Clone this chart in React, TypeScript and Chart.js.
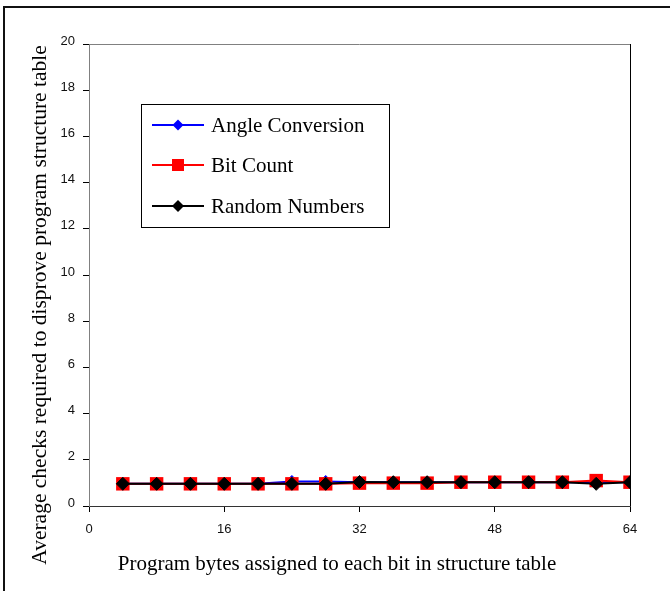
import React, { useEffect, useRef } from "react";
import { Chart, registerables } from "chart.js";

Chart.register(...registerables);

const xValues = [4, 8, 12, 16, 20, 24, 28, 32, 36, 40, 44, 48, 52, 56, 60, 64];
const angleConversion = [0.96, 0.96, 0.96, 0.96, 0.96, 1.06, 1.06, 1.03, 1.03, 1.03, 1.03, 1.03, 1.03, 1.03, 1.03, 1.03];
const bitCount = [0.96, 0.96, 0.96, 0.96, 0.96, 0.96, 0.96, 0.99, 0.99, 0.99, 1.03, 1.03, 1.03, 1.03, 1.1, 1.03];
const randomNumbers = [0.96, 0.96, 0.96, 0.96, 0.96, 0.96, 0.96, 1.04, 1.03, 1.03, 1.03, 1.03, 1.03, 1.03, 0.96, 1.03];

const seriesNames = ["Angle Conversion", "Bit Count", "Random Numbers"];
const xTitle = "Program bytes assigned to each bit in structure table";
const yTitle = "Average checks required to disprove program structure table";

const SERIF = "'Liberation Serif', 'Times New Roman', serif";
const SANS = "'Liberation Sans', Arial, sans-serif";

const decorPlugin = {
  id: "decor",
  beforeDraw(chart: any) {
    const ctx = chart.ctx;
    ctx.save();
    ctx.fillStyle = "#fff";
    ctx.fillRect(0, 0, chart.width, chart.height);
    ctx.strokeStyle = "#111";
    ctx.lineWidth = 2;
    ctx.strokeRect(4, 7, 720, 720);
    ctx.restore();
  },
  afterDraw(chart: any) {
    const ctx = chart.ctx;
    const a = chart.chartArea;
    ctx.save();
    // plot border top and right
    ctx.lineWidth = 1;
    ctx.strokeStyle = "#808080";
    ctx.beginPath();
    ctx.moveTo(a.left, a.top + 0.5);
    ctx.lineTo(a.right, a.top + 0.5);
    ctx.stroke();
    ctx.strokeStyle = "#000";
    ctx.beginPath();
    ctx.moveTo(a.right + 0.5, a.top);
    ctx.lineTo(a.right + 0.5, a.bottom);
    ctx.stroke();

    // axis titles
    ctx.fillStyle = "#000";
    ctx.font = `21px ${SERIF}`;
    ctx.textAlign = "center";
    ctx.textBaseline = "alphabetic";
    ctx.fillText(xTitle, 337, 570);
    ctx.save();
    ctx.font = `21.5px ${SERIF}`;
    ctx.translate(46, 305);
    ctx.rotate(-Math.PI / 2);
    ctx.fillText(yTitle, 0, 0);
    ctx.restore();

    // legend
    ctx.strokeStyle = "#000";
    ctx.lineWidth = 1;
    ctx.strokeRect(141.5, 104.5, 248, 123);
    const colors = ["#0000FF", "#FF0000", "#000000"];
    const ys = [125, 165, 206];
    for (let i = 0; i < 3; i++) {
      const y = ys[i];
      ctx.strokeStyle = colors[i];
      ctx.lineWidth = 2;
      ctx.beginPath();
      ctx.moveTo(152, y);
      ctx.lineTo(204, y);
      ctx.stroke();
      ctx.fillStyle = colors[i];
      ctx.beginPath();
      if (i === 1) {
        ctx.rect(172, y - 6, 12, 12);
      } else {
        const r = i === 0 ? 5.5 : 6;
        ctx.moveTo(178 - r, y);
        ctx.lineTo(178, y - r);
        ctx.lineTo(178 + r, y);
        ctx.lineTo(178, y + r);
        ctx.closePath();
      }
      ctx.fill();
      ctx.fillStyle = "#000";
      ctx.font = `21px ${SERIF}`;
      ctx.textAlign = "left";
      ctx.textBaseline = "middle";
      ctx.fillText(seriesNames[i], 211, y + 1);
    }
    ctx.restore();
  },
};

export default function App() {
  const canvasRef = useRef<HTMLCanvasElement | null>(null);

  useEffect(() => {
    if (!canvasRef.current) return;
    const chart = new Chart(canvasRef.current, {
      type: "line",
      data: {
        datasets: [
          {
            label: seriesNames[0],
            data: xValues.map((x, i) => ({ x, y: angleConversion[i] })),
            borderColor: "#0000FF",
            backgroundColor: "#0000FF",
            borderWidth: 2,
            pointStyle: "rectRot",
            pointRadius: 6,
            pointBorderWidth: 1,
            pointBorderColor: "#0000FF",
            order: 2,
          },
          {
            label: seriesNames[1],
            data: xValues.map((x, i) => ({ x, y: bitCount[i] })),
            borderColor: "#FF0000",
            backgroundColor: "#FF0000",
            borderWidth: 2,
            pointStyle: "rect",
            pointRadius: 9.5,
            pointBorderWidth: 0,
            order: 1,
          },
          {
            label: seriesNames[2],
            data: xValues.map((x, i) => ({ x, y: randomNumbers[i] })),
            borderColor: "#000000",
            backgroundColor: "#000000",
            borderWidth: 2,
            pointStyle: "rectRot",
            pointRadius: 6.5,
            pointBorderWidth: 1,
            pointBorderColor: "#000000",
            order: 0,
          },
        ],
      },
      options: {
        responsive: false,
        animation: false,
        devicePixelRatio: 1,
        layout: { padding: { left: 0, top: 44, right: 40, bottom: 0 } },
        plugins: {
          legend: { display: false },
          tooltip: { enabled: false },
        },
        scales: {
          x: {
            type: "linear",
            min: 0,
            max: 64,
            afterFit: (s: any) => {
              s.height = 85;
            },
            ticks: {
              stepSize: 16,
              color: "#111",
              font: { family: SANS, size: 13 },
              padding: 10,
              maxRotation: 0,
            },
            grid: {
              drawOnChartArea: false,
              drawTicks: true,
              tickLength: 6,
              color: "#000",
            },
            border: { display: true, color: "#333", width: 1 },
          },
          y: {
            type: "linear",
            min: 0,
            max: 20,
            afterFit: (s: any) => {
              s.width = 89;
            },
            ticks: {
              stepSize: 2,
              color: "#111",
              font: { family: SANS, size: 13 },
              padding: 8,
              labelOffset: -3,
            },
            grid: {
              drawOnChartArea: false,
              drawTicks: true,
              tickLength: 6,
              color: "#000",
            },
            border: { display: true, color: "#808080", width: 1 },
          },
        },
      },
      plugins: [decorPlugin],
    });
    return () => chart.destroy();
  }, []);

  return (
    <div style={{ position: "fixed", left: 0, top: 0, width: 670, height: 591, background: "#fff" }}>
      <canvas ref={canvasRef} width={670} height={591} style={{ width: 670, height: 591, display: "block" }} />
    </div>
  );
}
